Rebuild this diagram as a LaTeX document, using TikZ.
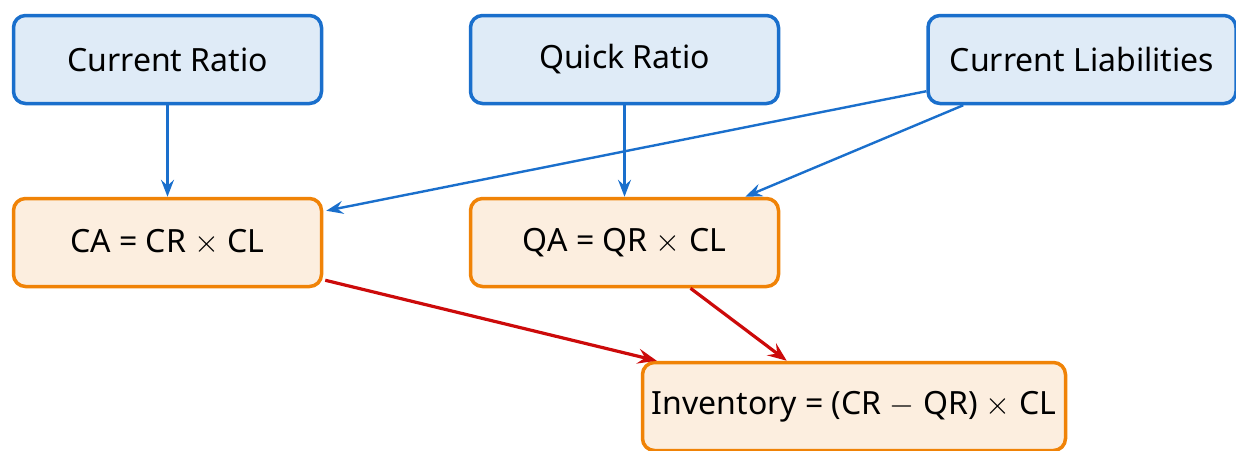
\RequirePackage{fix-cm}
\documentclass[tikz,border=0pt]{standalone}
\usepackage{fontspec}
\setmainfont{Noto Sans}
\usetikzlibrary{arrows.meta,calc}
\definecolor{bluestroke}{HTML}{1A6FCC}
\definecolor{bluefill}{HTML}{DFEBF7}
\definecolor{orangestroke}{HTML}{F08307}
\definecolor{orangefill}{HTML}{FCEEDF}
\definecolor{redline}{HTML}{CC0A0A}
\tikzset{
  inputbox/.style={draw=bluestroke, fill=bluefill, line width=3.5pt, rounded corners=12pt,
    minimum width=308pt, minimum height=88pt, inner sep=0pt,
    font=\fontsize{32}{38}\selectfont},
  calcbox/.style={draw=orangestroke, fill=orangefill, line width=3.5pt, rounded corners=12pt,
    minimum width=308pt, minimum height=88pt, inner sep=0pt,
    font=\fontsize{32}{38}\selectfont},
  bluearrow/.style={draw=bluestroke, line width=2.4pt,
    -{Stealth[length=17pt,width=13pt,inset=6pt]}},
  redarrow/.style={draw=redline, line width=3.2pt,
    -{Stealth[length=19pt,width=15pt,inset=7pt]}}
}
\begin{document}
\begin{tikzpicture}[x=1pt,y=-1pt]
\useasboundingbox (0,0) rectangle (1236,450);
% inputs
\node[inputbox] (cr) at (167.5,59.5) {Current Ratio};
\node[inputbox] (qr) at (624.5,59.5) {Quick Ratio};
\node[inputbox] (cl) at (1082,59.5) {Current Liabilities};
% intermediate results
\node[calcbox] (ca) at (167.5,242.5) {CA = CR $\times$ CL};
\node[calcbox] (qa) at (624.5,242.5) {QA = QR $\times$ CL};
% final result
\node[calcbox, minimum width=423pt] (inv) at (854,406.5) {Inventory = (CR $-$ QR) $\times$ CL};
% connectors
\draw[bluearrow] (cr.south) -- (ca.north);
\draw[bluearrow] (qr.south) -- (qa.north);
\draw[bluearrow] ($(cl.south west)+(0,-14)$) -- ($(ca.north east)+(3,14)$);
\draw[bluearrow] ($(cl.south west)+(37,0)$) -- ($(qa.north east)+(-35,0)$);
\draw[redarrow] ($(ca.south east)+(2,-8)$) -- ($(inv.north west)+(16,0)$);
\draw[redarrow] ($(qa.south)+(66,0)$) -- ($(inv.north west)+(146,0)$);
\end{tikzpicture}
\end{document}
